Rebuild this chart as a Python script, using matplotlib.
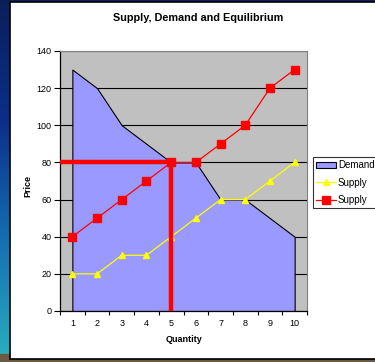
import matplotlib
matplotlib.use("Agg")
import matplotlib.pyplot as plt
import numpy as np
from matplotlib.patches import Rectangle
from matplotlib.colors import LinearSegmentedColormap

quantity = [1, 2, 3, 4, 5, 6, 7, 8, 9, 10]
demand = [130, 120, 100, 90, 80, 80, 60, 60, 50, 40]
supply_yellow = [20, 20, 30, 30, 40, 50, 60, 60, 70, 80]
supply_red = [40, 50, 60, 70, 80, 80, 90, 100, 120, 130]
eq_q = 5
eq_p = 80
y_ticks = [0, 20, 40, 60, 80, 100, 120, 140]

plt.rcParams['font.family'] = ['Liberation Sans', 'DejaVu Sans']

fig = plt.figure(figsize=(3.75, 3.62), dpi=100)
W, H = 375, 362

# background gradient
bg = fig.add_axes([0, 0, 1, 1])
bg.set_axis_off()
grad = np.linspace(0, 1, 256).reshape(-1, 1)
cmap = LinearSegmentedColormap.from_list("bg", ["#0a1f5a", "#0b2f8a", "#1570b0", "#2ab0c0"])
bg.imshow(grad, aspect='auto', cmap=cmap, extent=[0, 1, 0, 1])
bg.add_patch(Rectangle((0, 0), 1, 8 / H, color="#6b5a40", transform=bg.transAxes))
bg.add_patch(Rectangle((10 / W, 3 / H), 1.1, 1 - 5 / H, facecolor="white",
                       edgecolor="black", linewidth=1.2, transform=bg.transAxes))
bg.set_xlim(0, 1)
bg.set_ylim(0, 1)

ax = fig.add_axes([60 / W, 1 - 311 / H, (307 - 60) / W, (311 - 51) / H])
ax.set_facecolor("#C0C0C0")

ax.fill_between(quantity, demand, 0, facecolor="#9999FF", edgecolor="black",
                linewidth=0.8, label="Demand", zorder=2)
ax.plot(quantity, supply_yellow, color="#FFFF00", marker="^", markersize=4,
        linewidth=0.9, label="Supply", zorder=4)
ax.plot(quantity, supply_red, color="#FF0000", marker="s", markersize=6.3,
        linewidth=0.9, label="Supply", zorder=4)

ax.plot([0.5, eq_q], [eq_p, eq_p], color="#FF0000", linewidth=3.2, zorder=5,
        solid_capstyle="butt")
ax.plot([eq_q, eq_q], [0, eq_p], color="#FF0000", linewidth=3.2, zorder=5,
        solid_capstyle="butt")

ax.set_xlim(0.5, 10.5)
ax.set_ylim(0, 140)
ax.set_yticks(y_ticks)
ax.set_xticks(quantity)
ax.set_xticks(np.arange(0.5, 11, 1), minor=True)
ax.tick_params(axis='x', which='major', length=0, labelsize=6.5, pad=6)
ax.tick_params(axis='x', which='minor', length=3, width=0.8, direction='out')
ax.tick_params(axis='y', which='major', length=4, width=0.8, labelsize=6.5, pad=2)
ax.yaxis.grid(True, color="#000000", linewidth=0.8, zorder=1)
ax.set_axisbelow(True)

for s in ['top', 'right']:
    ax.spines[s].set_color("#808080")
    ax.spines[s].set_linewidth(0.8)
for s in ['left', 'bottom']:
    ax.spines[s].set_color("#000000")
    ax.spines[s].set_linewidth(0.9)

ax.set_xlabel("Quantity", fontsize=6.5, fontweight='bold', labelpad=5)
ax.set_ylabel("Price", fontsize=6.5, fontweight='bold', labelpad=3)
ax.yaxis.set_label_coords(27 / W - 60 / W, 0.5, transform=fig.transFigure) if False else None
ax.yaxis.label.set_position((0, 0.48))
fig.text(198 / W, 1 - 18 / H, "Supply, Demand and Equilibrium", ha='center',
         va='center', fontsize=7.8, fontweight='bold')

leg = fig.legend(loc='upper left', bbox_to_anchor=(313 / W, 1 - 157 / H),
                 fontsize=7, frameon=True, fancybox=False, edgecolor='black',
                 borderpad=0.35, handlelength=2.0, handletextpad=0.2,
                 labelspacing=0.75, borderaxespad=0)
leg.get_frame().set_linewidth(0.8)

fig.savefig("out.png", dpi=100)
